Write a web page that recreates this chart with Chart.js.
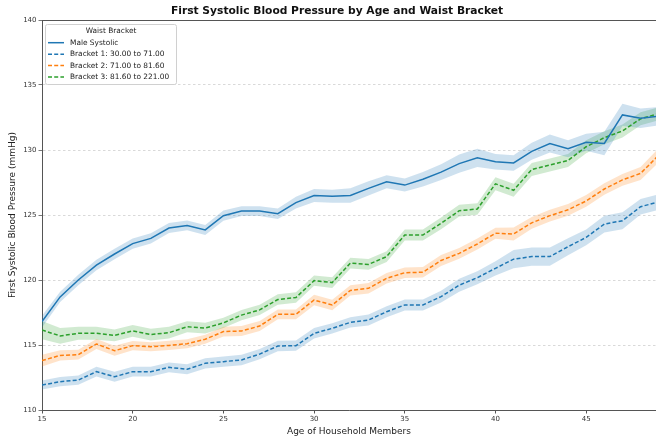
<!DOCTYPE html>
<html>
<head>
    <meta charset="utf-8">
    <title>First Systolic Blood Pressure by Age and Waist Bracket</title>
    <script src="https://cdn.jsdelivr.net/npm/chart.js"></script>
    <style>
        html, body { margin: 0; padding: 0; background: #fff; }
        .box { width: 656px; height: 440px; }
    </style>
</head>
<body>
    <div class="box">
        <canvas id="bpChart" width="656" height="440"></canvas>
    </div>
    <script>
        // ages on the x axis
        const ages = [15, 16, 17, 18, 19, 20, 21, 22, 23, 24, 25, 26, 27, 28, 29, 30, 31, 32,
                      33, 34, 35, 36, 37, 38, 39, 40, 41, 42, 43, 44, 45, 46, 47, 48, 49];
        const xTicks = [15, 20, 25, 30, 35, 40, 45];
        const yTicks = [110, 115, 120, 125, 130, 135, 140];

        // mean systolic values
        const maleSystolic = [116.8, 118.7, 120.0, 121.15, 122.0, 122.8, 123.2, 124.0, 124.2, 123.85,
                              124.95, 125.3, 125.3, 125.1, 125.95, 126.5, 126.45, 126.5, 127.05, 127.55,
                              127.3, 127.75, 128.3, 128.95, 129.4, 129.1, 129.0, 129.9, 130.5, 130.1,
                              130.6, 130.5, 132.7, 132.45, 132.6];
        const bracket1 = [111.92, 112.18, 112.3, 112.95, 112.56, 112.95, 112.95, 113.28, 113.13, 113.59,
                          113.72, 113.85, 114.3, 114.92, 114.95, 115.9, 116.28, 116.74, 116.92, 117.56,
                          118.08, 118.08, 118.72, 119.6, 120.18, 120.9, 121.6, 121.8, 121.8, 122.56,
                          123.28, 124.3, 124.56, 125.64, 126.0];
        const bracket2 = [113.8, 114.2, 114.26, 115.08, 114.56, 114.95, 114.87, 114.97, 115.1, 115.44,
                          116.03, 116.08, 116.46, 117.36, 117.36, 118.46, 118.08, 119.2, 119.36, 120.13,
                          120.56, 120.6, 121.5, 122.05, 122.77, 123.6, 123.54, 124.4, 124.95, 125.4,
                          126.08, 127.0, 127.7, 128.2, 129.6];
        const bracket3 = [116.15, 115.7, 115.9, 115.9, 115.74, 116.08, 115.8, 115.95, 116.4, 116.3,
                          116.7, 117.3, 117.7, 118.5, 118.65, 119.95, 119.8, 121.3, 121.2, 121.8,
                          123.46, 123.46, 124.36, 125.33, 125.46, 127.4, 126.9, 128.5, 128.85, 129.2,
                          130.25, 130.95, 131.46, 132.4, 132.8];

        // half width of the confidence band around each mean
        const maleCi = [0.45, 0.4, 0.4, 0.4, 0.4, 0.4, 0.4, 0.38, 0.38, 0.38, 0.4, 0.38, 0.38, 0.4, 0.45,
                        0.5, 0.5, 0.55, 0.55, 0.5, 0.5, 0.55, 0.6, 0.7, 0.7, 0.6, 0.6, 0.65, 0.7, 0.65,
                        0.65, 0.9, 0.85, 0.75, 0.7];
        const bracket1Ci = [0.35, 0.35, 0.35, 0.38, 0.38, 0.38, 0.38, 0.38, 0.38, 0.4, 0.4, 0.4, 0.4, 0.4, 0.4,
                            0.4, 0.4, 0.4, 0.42, 0.42, 0.42, 0.42, 0.45, 0.5, 0.5, 0.55, 0.7, 0.7, 0.7, 0.65,
                            0.6, 0.65, 0.65, 0.6, 0.6];
        const bracket2Ci = [0.45, 0.4, 0.38, 0.38, 0.38, 0.35, 0.35, 0.35, 0.35, 0.35, 0.38, 0.38, 0.38, 0.38, 0.38,
                            0.4, 0.4, 0.4, 0.4, 0.4, 0.4, 0.4, 0.42, 0.42, 0.42, 0.42, 0.5, 0.45, 0.45, 0.45,
                            0.45, 0.45, 0.45, 0.5, 0.55];
        const bracket3Ci = [0.7, 0.6, 0.5, 0.5, 0.45, 0.45, 0.45, 0.45, 0.42, 0.42, 0.4, 0.4, 0.4, 0.4, 0.4,
                            0.4, 0.42, 0.42, 0.42, 0.42, 0.42, 0.42, 0.45, 0.45, 0.45, 0.5, 0.5, 0.5, 0.5, 0.5,
                            0.5, 0.5, 0.5, 0.5, 0.5];

        const blue = '#1f77b4', orange = '#ff7f0e', green = '#2ca02c';

        function pts(vals, off, sign) {
            return ages.map((a, i) => ({ x: a, y: vals[i] + (off ? sign * off[i] : 0) }));
        }

        function lineSet(label, vals, color, dash) {
            return {
                label: label, data: pts(vals), borderColor: color, borderWidth: 1.5,
                borderDash: dash, pointRadius: 0, tension: 0, fill: false
            };
        }

        function bandSets(vals, ci, rgba) {
            return [
                { label: '', data: pts(vals, ci, 1), borderWidth: 0, pointRadius: 0, fill: false, band: true },
                { label: '', data: pts(vals, ci, -1), borderWidth: 0, pointRadius: 0, fill: '-1',
                  backgroundColor: rgba, band: true }
            ];
        }

        const dash = [4, 2.2];
        const datasets = [
            lineSet('Male Systolic', maleSystolic, blue, []),
            lineSet('Bracket 1: 30.00 to 71.00', bracket1, blue, dash),
            lineSet('Bracket 2: 71.00 to 81.60', bracket2, orange, dash),
            lineSet('Bracket 3: 81.60 to 221.00', bracket3, green, dash),
            ...bandSets(maleSystolic, maleCi, 'rgba(31,119,180,0.22)'),
            ...bandSets(bracket1, bracket1Ci, 'rgba(31,119,180,0.22)'),
            ...bandSets(bracket2, bracket2Ci, 'rgba(255,127,14,0.22)'),
            ...bandSets(bracket3, bracket3Ci, 'rgba(44,160,44,0.22)')
        ];

        const FONT = "'DejaVu Sans', sans-serif";

        // title, top spine and the legend box, drawn the matplotlib way
        const decor = {
            id: 'decor',
            afterDraw(chart) {
                const ctx = chart.ctx;
                const area = chart.chartArea;
                ctx.save();
                ctx.strokeStyle = '#555';
                ctx.lineWidth = 1;
                ctx.beginPath();
                ctx.moveTo(area.left, area.top + 0.5);
                ctx.lineTo(area.right, area.top + 0.5);
                ctx.stroke();

                ctx.fillStyle = '#111';
                ctx.font = 'bold 10.7px ' + FONT;
                ctx.textAlign = 'center';
                ctx.textBaseline = 'middle';
                ctx.fillText('First Systolic Blood Pressure by Age and Waist Bracket', 337, 11);

                // legend
                const bx = 45.5, by = 24.5, bw = 131, bh = 60;
                ctx.fillStyle = 'rgba(255,255,255,0.8)';
                ctx.strokeStyle = '#d0d0d0';
                ctx.beginPath();
                ctx.roundRect(bx, by, bw, bh, 2);
                ctx.fill();
                ctx.stroke();

                ctx.fillStyle = '#222';
                ctx.font = '7.4px ' + FONT;
                ctx.fillText('Waist Bracket', bx + bw / 2, 31.5);
                ctx.textAlign = 'left';
                const items = chart.data.datasets.filter(d => !d.band);
                items.forEach((d, i) => {
                    const y = 42.7 + i * 11.45;
                    ctx.strokeStyle = d.borderColor;
                    ctx.lineWidth = 1.5;
                    ctx.setLineDash(d.borderDash);
                    ctx.beginPath();
                    ctx.moveTo(48, y);
                    ctx.lineTo(64, y);
                    ctx.stroke();
                    ctx.setLineDash([]);
                    ctx.fillStyle = '#222';
                    ctx.fillText(d.label, 70, y);
                });
                ctx.restore();
            }
        };

        new Chart(document.getElementById('bpChart'), {
            type: 'line',
            data: { datasets: datasets },
            options: {
                responsive: false,
                animation: false,
                layout: { padding: { top: 20, left: 0, right: 0, bottom: 0 } },
                plugins: {
                    legend: { display: false },
                    tooltip: { enabled: false },
                    filler: { drawTime: 'beforeDatasetsDraw' }
                },
                scales: {
                    x: {
                        type: 'linear', min: 15, max: 48.85,
                        afterBuildTicks: s => { s.ticks = xTicks.map(v => ({ value: v })); },
                        afterFit: s => { s.height = 30; },
                        grid: { drawOnChartArea: false, tickLength: 3.5, tickColor: '#555' },
                        border: { color: '#555', width: 1 },
                        ticks: { font: { family: FONT, size: 7 }, color: '#333', padding: 1, maxRotation: 0 },
                        title: { display: true, text: 'Age of Household Members', color: '#222',
                                 font: { family: FONT, size: 9 }, padding: { top: 0, bottom: 3 } }
                    },
                    y: {
                        min: 110, max: 140,
                        afterBuildTicks: s => { s.ticks = yTicks.map(v => ({ value: v })); },
                        afterFit: s => { s.width = 42; },
                        grid: { color: '#cfcfcf', lineWidth: 0.8, tickLength: 3.5, tickColor: '#555' },
                        border: { color: '#555', width: 1, dash: [2.5, 2.5] },
                        ticks: { font: { family: FONT, size: 7 }, color: '#333', padding: 2 },
                        title: { display: true, text: 'First Systolic Blood Pressure (mmHg)', color: '#222',
                                 font: { family: FONT, size: 9 }, padding: { top: 7, bottom: 0 } }
                    }
                }
            },
            plugins: [decor]
        });
    </script>
</body>
</html>
